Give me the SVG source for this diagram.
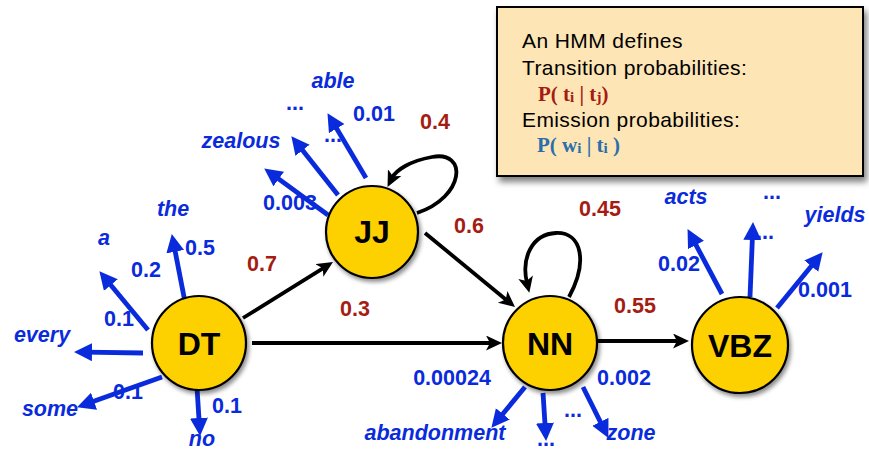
<svg xmlns="http://www.w3.org/2000/svg" width="869" height="452" viewBox="0 0 869 452">
<style>
.node{fill:#fdd000;stroke:#000;stroke-width:2.2}
.nlab{font-family:"Liberation Sans",Arial,sans-serif;font-weight:bold;font-size:32px;fill:#000;text-anchor:middle}
.tr{stroke:#000;stroke-width:3.8;fill:none}
.em{stroke:#0a2bdc;stroke-width:4.8;fill:none}
.b{font-family:"Liberation Sans",Arial,sans-serif;font-weight:bold;font-size:21.5px;fill:#0a2bdc;text-anchor:middle}
.w{font-style:italic}
.r{font-family:"Liberation Sans",Arial,sans-serif;font-weight:bold;font-size:21.5px;fill:#a51c12;text-anchor:middle}
.bx{font-family:"Liberation Sans",Arial,sans-serif;font-size:21px;letter-spacing:0.4px;fill:#000}
.f{font-family:"Liberation Serif","Times New Roman",serif;font-weight:bold;font-size:21px}
</style>
<defs>
<filter id="sh" x="-20%" y="-20%" width="150%" height="150%">
<feDropShadow dx="2" dy="3" stdDeviation="2" flood-color="#000" flood-opacity="0.45"/>
</filter>
<filter id="shb" x="-10%" y="-10%" width="130%" height="140%">
<feDropShadow dx="3" dy="5" stdDeviation="3" flood-color="#000" flood-opacity="0.5"/>
</filter>
<marker id="ab" markerUnits="userSpaceOnUse" markerWidth="20" markerHeight="19" refX="7" refY="9" orient="auto">
<path d="M0,0 L18,9 L0,18 z" fill="#0a2bdc"/>
</marker>
<marker id="ak" markerUnits="userSpaceOnUse" markerWidth="18" markerHeight="16" refX="6" refY="7.5" orient="auto">
<path d="M0,0 L16,7.5 L0,15 L4,7.5 z" fill="#000"/>
</marker>
</defs>
<rect width="869" height="452" fill="#fff"/>

<g id="legend">
<rect x="497" y="7" width="366" height="169" fill="#fde5b5" stroke="#000" stroke-width="2" filter="url(#shb)"/>
<text class="bx" x="522" y="48">An HMM defines</text>
<text class="bx" x="522" y="75">Transition probabilities:</text>
<text class="f" x="538" y="101" fill="#a51c12">P( t<tspan font-size="15" dy="1">i</tspan><tspan dy="-1"> | t</tspan><tspan font-size="15" dy="1">j</tspan><tspan dy="-1">)</tspan></text>
<text class="bx" x="522" y="127">Emission probabilities:</text>
<text class="f" x="537" y="152" fill="#2a6eab">P( w<tspan font-size="15" dy="1">i</tspan><tspan dy="-1"> | t</tspan><tspan font-size="15" dy="1">i</tspan><tspan dy="-1"> )</tspan></text>
</g>

<g id="emission-labels">
<text class="b" x="295" y="110">...</text>
<text class="b" x="333" y="142">...</text>
<text class="b" x="573" y="417">...</text>
<text class="b" x="546" y="446">...</text>
<text class="b" x="772" y="199">...</text>
<text class="b" x="765" y="239">...</text>
</g>

<g id="connectors">
<line class="tr" x1="243" y1="318" x2="324.5" y2="267.3" marker-end="url(#ak)"/>
<line class="tr" x1="252" y1="343" x2="492" y2="343" marker-end="url(#ak)"/>
<line class="tr" x1="425" y1="233" x2="507.3" y2="300.7" marker-end="url(#ak)"/>
<line class="tr" x1="598" y1="341" x2="679" y2="341" marker-end="url(#ak)"/>
<path class="tr" d="M417,213 C465,197 468,150 432,157 C410,161 396,170 392,178" marker-end="url(#ak)"/>
<path class="tr" d="M569,297 C588,262 582,232 556,233 C532,234 521,258 527,283" marker-end="url(#ak)"/>

<line class="em" x1="185" y1="302" x2="173.9" y2="244.8" marker-end="url(#ab)"/>
<line class="em" x1="148" y1="330" x2="106.4" y2="279.7" marker-end="url(#ab)"/>
<line class="em" x1="143" y1="353" x2="85" y2="352.1" marker-end="url(#ab)"/>
<line class="em" x1="162" y1="377" x2="87.4" y2="403.6" marker-end="url(#ab)"/>
<line class="em" x1="197" y1="388" x2="199.4" y2="425" marker-end="url(#ab)"/>
<line class="em" x1="328" y1="215" x2="273.1" y2="174.9" marker-end="url(#ab)"/>
<line class="em" x1="338" y1="195" x2="298.2" y2="144.8" marker-end="url(#ab)"/>
<line class="em" x1="366" y1="178" x2="333.1" y2="122.6" marker-end="url(#ab)"/>
<line class="em" x1="525" y1="387" x2="498.4" y2="419.3" marker-end="url(#ab)"/>
<line class="em" x1="543" y1="393" x2="545.4" y2="430" marker-end="url(#ab)"/>
<line class="em" x1="583" y1="387" x2="603.5" y2="428.1" marker-end="url(#ab)"/>
<line class="em" x1="722" y1="294" x2="692.7" y2="238.8" marker-end="url(#ab)"/>
<line class="em" x1="750" y1="297" x2="752.6" y2="233" marker-end="url(#ab)"/>
<line class="em" x1="777" y1="308" x2="815.7" y2="260.7" marker-end="url(#ab)"/>
</g>

<g id="DT"><circle class="node" cx="199" cy="343" r="47" filter="url(#sh)"/><text class="nlab" x="199" y="355">DT</text></g>
<g id="JJ"><circle class="node" cx="372" cy="232" r="46" filter="url(#sh)"/><text class="nlab" x="372" y="243">JJ</text></g>
<g id="NN"><circle class="node" cx="550" cy="343" r="47" filter="url(#sh)"/><text class="nlab" x="550" y="355">NN</text></g>
<g id="VBZ"><circle class="node" cx="740" cy="345" r="48" filter="url(#sh)"/><text class="nlab" x="740" y="357">VBZ</text></g>

<g id="labels">
<text class="r" x="262" y="271">0.7</text>
<text class="r" x="355" y="316">0.3</text>
<text class="r" x="435" y="129">0.4</text>
<text class="r" x="469" y="233">0.6</text>
<text class="r" x="600" y="216">0.45</text>
<text class="r" x="635" y="313">0.55</text>

<text class="b w" x="333" y="88">able</text>
<text class="b" x="374" y="121">0.01</text>
<text class="b w" x="241" y="148">zealous</text>
<text class="b" x="290" y="210">0.003</text>
<text class="b w" x="173" y="216">the</text>
<text class="b w" x="104" y="245">a</text>
<text class="b" x="200" y="255">0.5</text>
<text class="b" x="146" y="277">0.2</text>
<text class="b" x="119" y="326">0.1</text>
<text class="b w" x="42" y="342">every</text>
<text class="b" x="128" y="399">0.1</text>
<text class="b w" x="50" y="416">some</text>
<text class="b" x="227" y="413">0.1</text>
<text class="b w" x="202" y="446">no</text>
<text class="b" x="452" y="385">0.00024</text>
<text class="b" x="624" y="385">0.002</text>
<text class="b w" x="631" y="440">zone</text>
<text class="b w" x="435" y="440">abandonment</text>
<text class="b w" x="686" y="204">acts</text>
<text class="b w" x="835" y="222">yields</text>
<text class="b" x="679" y="271">0.02</text>
<text class="b" x="825" y="297">0.001</text>
</g>
</svg>
